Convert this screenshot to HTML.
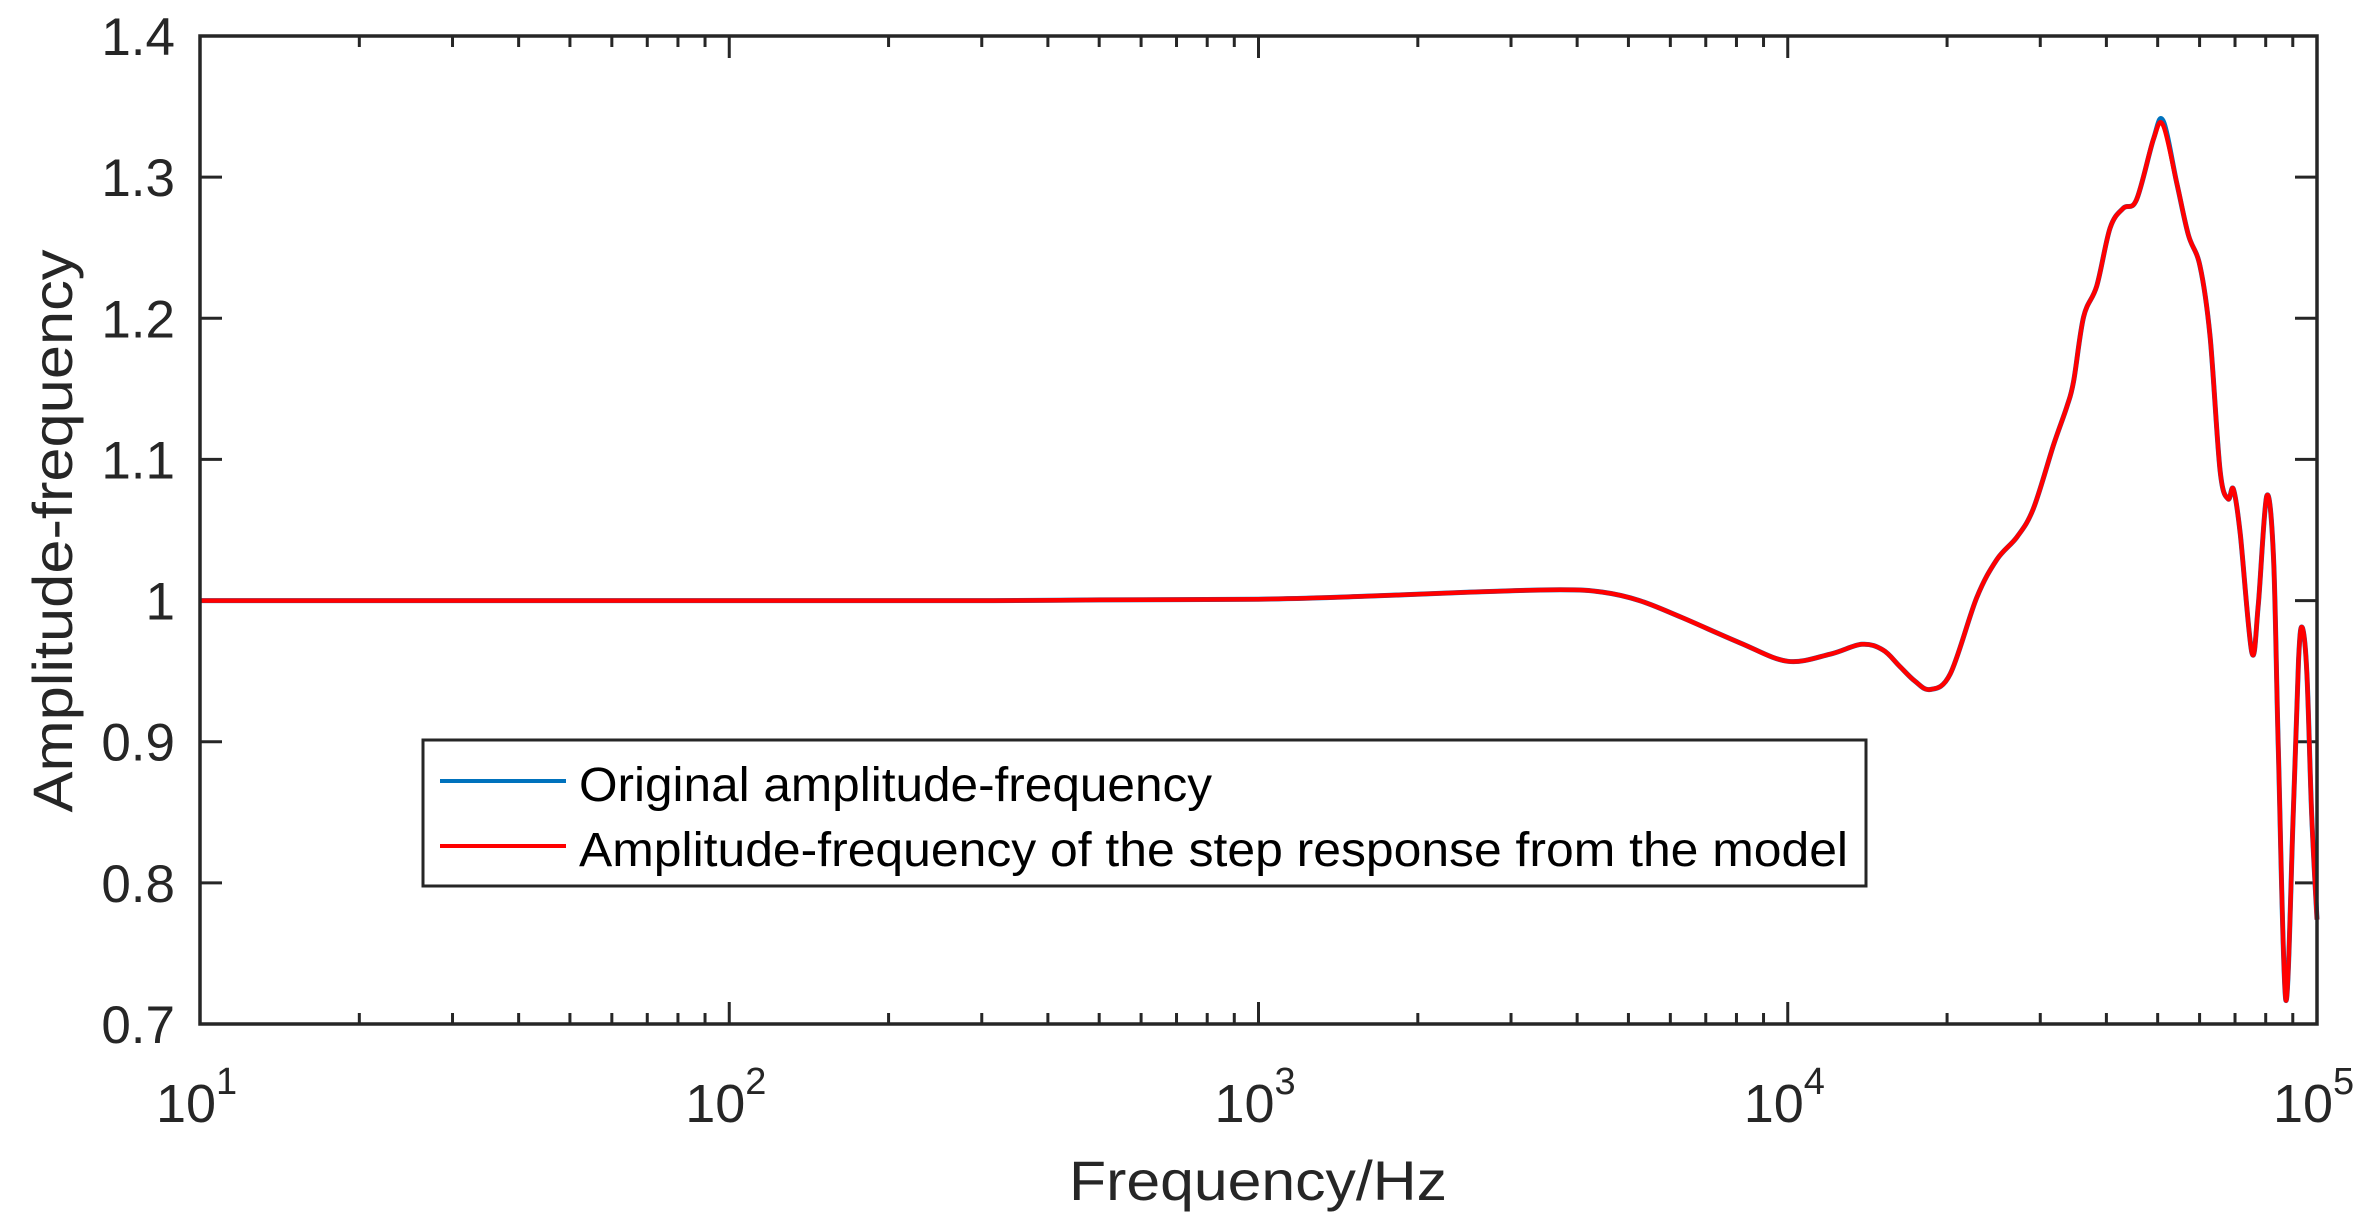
<!DOCTYPE html>
<html><head><meta charset="utf-8"><style>
html,body{margin:0;padding:0;background:#fff;}
svg{display:block;font-family:"Liberation Sans",Arial,sans-serif;}
</style></head><body>
<svg id="chart" width="2373" height="1230" viewBox="0 0 2373 1230" xmlns="http://www.w3.org/2000/svg">
<rect width="2373" height="1230" fill="#fff"/>
<g id="ticks"></g>
<g id="series"></g>
<rect x="200" y="36" width="2117" height="988" fill="none" stroke="#262626" stroke-width="3.5"/>
<text x="1258" y="1200" font-size="56" text-anchor="middle" fill="#262626" textLength="378" lengthAdjust="spacingAndGlyphs">Frequency/Hz</text>
<text x="0" y="0" transform="translate(72,531) rotate(-90)" font-size="56" text-anchor="middle" fill="#262626" textLength="563" lengthAdjust="spacingAndGlyphs">Amplitude-frequency</text>
<g>
<rect x="423" y="740" width="1443" height="146" fill="#fff" stroke="#262626" stroke-width="3"/>
<line x1="440" y1="781" x2="566" y2="781" stroke="#0072BD" stroke-width="4"/>
<text x="579" y="801" font-size="48" fill="#000" textLength="633" lengthAdjust="spacingAndGlyphs">Original amplitude-frequency</text>
<line x1="440" y1="846" x2="566" y2="846" stroke="#FF0000" stroke-width="4"/>
<text x="579" y="866" font-size="48" fill="#000" textLength="1269" lengthAdjust="spacingAndGlyphs">Amplitude-frequency of the step response from the model</text>
</g>
</svg>
<script>
const logFreq = [1,1.5,2,2.5,2.7,3,3.2,3.4,3.57,3.65,3.72,3.8,3.91,4.0,4.08,4.14,4.18,4.21,4.24,4.269,4.307,4.357,4.395,4.433,4.464,4.502,4.527,4.540,4.559,4.584,4.609,4.634,4.659,4.691,4.709,4.735,4.757,4.779,4.798,4.817,4.832,4.842,4.855,4.877,4.889,4.905,4.918,4.927,4.941,4.955,4.965,4.972,4.981,4.990,5.0];
const ampOriginal = [1.0,1.0,1.0,1.0,1.0005,1.001,1.003,1.006,1.0077,1.006,1.0,0.988,0.970,0.957,0.962,0.969,0.965,0.954,0.943,0.937,0.948,1.002,1.029,1.045,1.065,1.110,1.137,1.155,1.201,1.223,1.264,1.278,1.284,1.327,1.340,1.296,1.259,1.237,1.187,1.092,1.072,1.079,1.047,0.963,0.997,1.074,1.029,0.893,0.717,0.848,0.957,0.981,0.948,0.848,0.774];
const ampModel = [1.0,1.0,1.0,1.0,1.0005,1.001,1.003,1.006,1.0077,1.006,1.0,0.988,0.970,0.957,0.962,0.969,0.965,0.954,0.943,0.937,0.948,1.002,1.029,1.045,1.065,1.110,1.137,1.155,1.201,1.223,1.264,1.278,1.284,1.327,1.337,1.296,1.259,1.237,1.187,1.092,1.072,1.079,1.047,0.963,0.997,1.074,1.029,0.893,0.717,0.848,0.957,0.981,0.948,0.848,0.774];
const yTicks = [0.7,0.8,0.9,1.0,1.1,1.2,1.3,1.4];
const yTickLabels = ["0.7","0.8","0.9","1","1.1","1.2","1.3","1.4"];
const xDecades = [1,2,3,4,5];

const L=200,R=2317,T=36,B=1024;
const xs = lf => L+(lf-1)/4*(R-L);
const ys = v => B-(v-0.7)/0.7*(B-T);
const NS="http://www.w3.org/2000/svg";
const tg=document.getElementById('ticks'), sg=document.getElementById('series');
function mk(tag,attrs,parent){const e=document.createElementNS(NS,tag);for(const k in attrs)e.setAttribute(k,attrs[k]);parent.appendChild(e);return e;}

yTicks.forEach((v,i)=>{
  const y=ys(v);
  const a=mk('line',{x1:L,y1:y,x2:L+22,y2:y,stroke:'#262626','stroke-width':3},tg);
  
  
  const b=mk('line',{x1:R,y1:y,x2:R-22,y2:y,stroke:'#262626','stroke-width':3},tg);
  
  
  const t=mk('text',{x:175,y:y+19,'font-size':53,'text-anchor':'end',fill:'#262626'},tg);
  t.textContent=yTickLabels[i];
  
  
});
xDecades.forEach((d,i)=>{
  const x=xs(d);
  [[B,B-22],[T,T+22]].forEach(p=>{
    const l=mk('line',{x1:x,y1:p[0],x2:x,y2:p[1],stroke:'#262626','stroke-width':3},tg);
    
    
  });
  const t=mk('text',{x:x-14,y:1122,'font-size':54,'text-anchor':'middle',fill:'#262626'},tg);
  t.textContent='10';
  
  
  const s=mk('text',{x:x+16,y:1094,'font-size':38,'text-anchor':'start',fill:'#262626'},tg);
  s.textContent=String(d);
  
  
  if(i<xDecades.length-1){
    for(let m=2;m<=9;m++){
      const mx=xs(d+Math.log10(m));
      [[B,B-11],[T,T+11]].forEach(p=>{
        const l=mk('line',{x1:mx,y1:p[0],x2:mx,y2:p[1],stroke:'#262626','stroke-width':3},tg);
        
        
      });
    }
  }
});
function path(vals){
  const P=vals.map((v,i)=>[xs(logFreq[i]),ys(v)]);
  let d='M'+P[0][0].toFixed(1)+','+P[0][1].toFixed(1);
  for(let i=0;i<P.length-1;i++){
    const p0=P[Math.max(0,i-1)],p1=P[i],p2=P[i+1],p3=P[Math.min(P.length-1,i+2)];
    const c1=[p1[0]+(p2[0]-p0[0])/6,p1[1]+(p2[1]-p0[1])/6];
    const c2=[p2[0]-(p3[0]-p1[0])/6,p2[1]-(p3[1]-p1[1])/6];
    d+=' C'+c1[0].toFixed(1)+','+c1[1].toFixed(1)+' '+c2[0].toFixed(1)+','+c2[1].toFixed(1)+' '+p2[0].toFixed(1)+','+p2[1].toFixed(1);
  }
  return d;
}
const p1=mk('path',{d:path(ampOriginal),fill:'none',stroke:'#0072BD','stroke-width':5,'stroke-linejoin':'round'},sg);


const p2=mk('path',{d:path(ampModel),fill:'none',stroke:'#FF0000','stroke-width':4.5,'stroke-linejoin':'round'},sg);


</script>
</body></html>
